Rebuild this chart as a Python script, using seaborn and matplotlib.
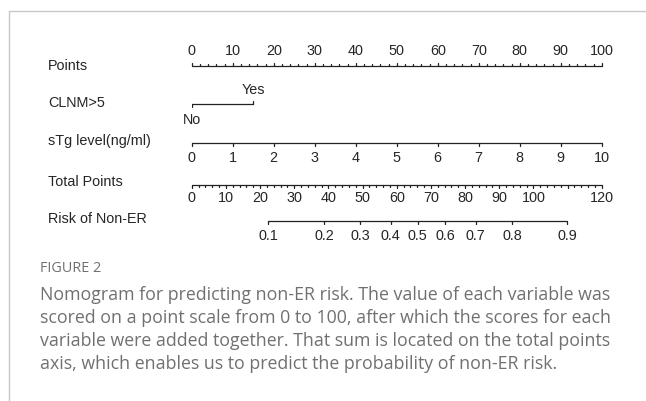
import numpy as np
import seaborn as sns
import matplotlib.pyplot as plt

# --- data ---
points_ticks = list(range(0, 101, 10))
clnm_levels = ["No", "Yes"]
clnm_points = [0, 15]
stg_values = list(range(0, 11))
stg_points = [v * 10 for v in stg_values]          # sTg 0..10 spans 0..100 points
total_ticks = list(range(0, 121, 10))
total_labels = [str(t) if t != 110 else "" for t in total_ticks]
risk_labels = ["0.1", "0.2", "0.3", "0.4", "0.5", "0.6", "0.7", "0.8", "0.9"]
risk_total_pts = [22.4, 38.7, 49.3, 58.2, 66.1, 74.2, 83.1, 93.8, 109.9]

row_names = ["Points", "CLNM>5", "sTg level(ng/ml)", "Total Points", "Risk of Non-ER"]

caption_head = "FIGURE 2"
caption_lines = [
    "Nomogram for predicting non-ER risk. The value of each variable was",
    "scored on a point scale from 0 to 100, after which the scores for each",
    "variable were added together. That sum is located on the total points",
    "axis, which enables us to predict the probability of non-ER risk.",
]

sns.set_style("white")
plt.rcParams['font.family'] = ['Liberation Sans', 'DejaVu Sans']

W, H = 646, 401
fig = plt.figure(figsize=(W / 100, H / 100), dpi=100)

# nomogram axes: x in points (0..100), y in pixel rows (top = 0)
x0, x1 = 191.7, 601.7
ax = fig.add_axes([x0 / W, 0, (x1 - x0) / W, 1])
ax.set_xlim(0, 100)
ax.set_ylim(H, 0)
ax.axis("off")

lc = "#222222"
lw = 0.9
fs = 10.4


def tot2pts(t):
    return np.asarray(t, dtype=float) * 100 / 120


def draw_axis(y, xs_major, xs_minor, up, maj=3.2, mnr=1.6):
    xs_all = list(xs_major) + list(xs_minor)
    ax.plot([min(xs_all), max(xs_all)], [y, y], color=lc, lw=lw, clip_on=False,
            solid_capstyle="butt")
    s = -1 if up else 1
    for xv in xs_major:
        ax.plot([xv, xv], [y, y + s * maj], color=lc, lw=lw, clip_on=False)
    for xv in xs_minor:
        ax.plot([xv, xv], [y, y + s * mnr], color=lc, lw=lw, clip_on=False)


row_y = [66, 104, 143, 185, 221]
label_y = [66, 103, 141, 182, 219]
label_x = (48 - x0) / (x1 - x0) * 100

for name, yy in zip(row_names, label_y):
    ax.text(label_x, yy, name, fontsize=fs, ha="left", va="center", clip_on=False)

# Points
pts_minor = [v for v in range(0, 101, 2) if v % 10]
draw_axis(row_y[0], points_ticks, pts_minor, up=True)
for t in points_ticks:
    ax.text(t, 51, str(t), fontsize=fs, ha="center", va="center")

# CLNM>5
yc = row_y[1]
ax.plot(clnm_points, [yc, yc], color=lc, lw=lw, clip_on=False)
ax.plot([clnm_points[0]] * 2, [yc, yc + 3.2], color=lc, lw=lw)
ax.plot([clnm_points[1]] * 2, [yc, yc - 3.2], color=lc, lw=lw)
ax.text(clnm_points[0], 120, clnm_levels[0], fontsize=fs, ha="center", va="center")
ax.text(clnm_points[1], 90, clnm_levels[1], fontsize=fs, ha="center", va="center")

# sTg
draw_axis(row_y[2], stg_points, [], up=False)
for p, v in zip(stg_points, stg_values):
    ax.text(p, 157.5, str(v), fontsize=fs, ha="center", va="center")

# Total Points
tot_minor = [v for v in range(0, 121, 2) if v % 10]
draw_axis(row_y[3], tot2pts(total_ticks), tot2pts(tot_minor), up=False)
for t, lab in zip(total_ticks, total_labels):
    ax.text(tot2pts(t), 198, lab, fontsize=fs, ha="center", va="center")

# Risk
risk_x = tot2pts(risk_total_pts)
draw_axis(row_y[4], risk_x, [], up=False)
for xv, lab in zip(risk_x, risk_labels):
    ax.text(xv, 236, lab, fontsize=fs, ha="center", va="center")

# frame lines of the figure panel
fig.add_artist(plt.Line2D([9 / W, 1], [1 - 11 / H, 1 - 11 / H], color="#c8c8c8", lw=1.0))
fig.add_artist(plt.Line2D([9 / W, 9 / W], [0, 1 - 11 / H], color="#c8c8c8", lw=1.0))

# caption
cap_col = "#707070"
fig.text(40 / W, 1 - 268 / H, caption_head, fontsize=10.4, color=cap_col,
         family=["Open Sans", "DejaVu Sans"], weight="medium", va="center")
for i, line in enumerate(caption_lines):
    fig.text(40 / W, 1 - (295 + 23 * i) / H, line, fontsize=12.8, color=cap_col,
             family=["Open Sans", "DejaVu Sans"], va="center")

fig.savefig("out.png", dpi=100)
